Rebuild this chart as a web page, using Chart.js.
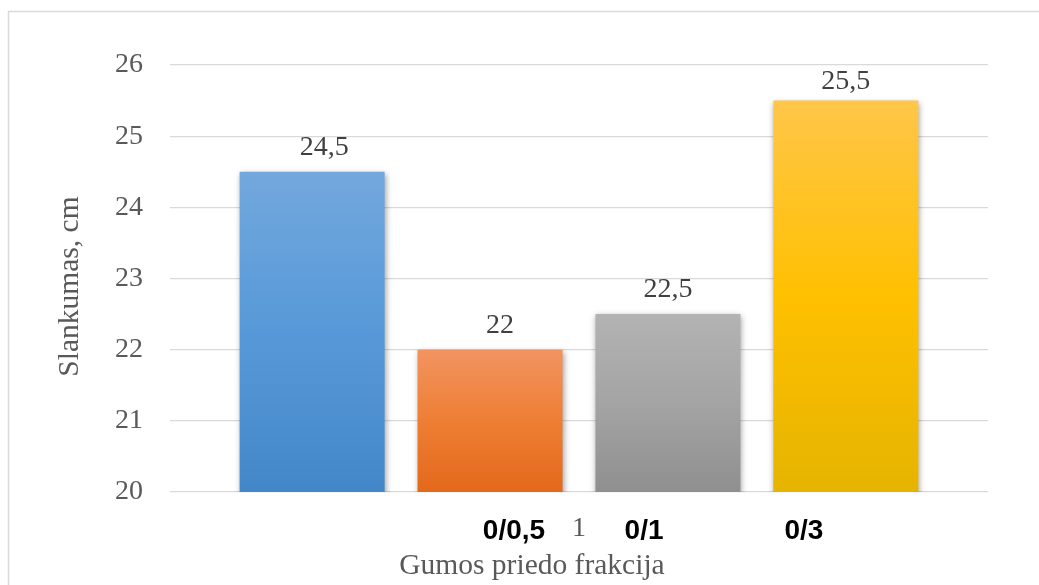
<!DOCTYPE html>
<html>
<head>
<meta charset="utf-8">
<title>Slankumas</title>
<script src="https://cdn.jsdelivr.net/npm/chart.js@4/dist/chart.umd.min.js"></script>
<style>
  html, body { margin: 0; padding: 0; background: #ffffff; }
  #wrap { position: relative; width: 1039px; height: 585px; }
</style>
</head>
<body>
<div id="wrap"><canvas id="chart" width="1039" height="585"></canvas></div>
<script>
// Category on the x axis (a single group of bars)
const categories = ['1'];
// Slump values, cm, one bar per series
const seriesNames = ['Kontrolinis', '0/0,5', '0/1', '0/3'];
const seriesValues = [24.5, 22, 22.5, 25.5];
// Y axis range and step
const yMin = 20;
const yMax = 26;
const yStep = 1;
// Fraction labels written under the plot
const fractionLabels = ['0/0,5', '0/1', '0/3'];
const yTitle = 'Slankumas, cm';
const xTitle = 'Gumos priedo frakcija';

// Light-to-dark vertical gradient stops for each bar
const barStops = [
  ['#72A8DD', '#5799D8', '#4487C8'],
  ['#F29460', '#EE7E34', '#E3691B'],
  ['#B3B3B3', '#A4A4A4', '#8F8F8F'],
  ['#FFC649', '#FFC000', '#E5B400']
];

const serif = "'Liberation Serif', 'Times New Roman', serif";
const sans = "'Liberation Sans', Arial, sans-serif";

function gradientFill(stops) {
  return (ctx) => {
    const chart = ctx.chart;
    if (!chart.chartArea || !chart.scales.y) return stops[1];
    const y = chart.scales.y;
    const top = y.getPixelForValue(ctx.raw);
    const bottom = y.getPixelForValue(y.min);
    if (!isFinite(top) || !isFinite(bottom) || top === bottom) return stops[1];
    const g = chart.ctx.createLinearGradient(0, top, 0, bottom);
    g.addColorStop(0, stops[0]);
    g.addColorStop(0.5, stops[1]);
    g.addColorStop(1, stops[2]);
    return g;
  };
}

const datasets = seriesNames.map((name, i) => ({
  label: name,
  data: [seriesValues[i]],
  backgroundColor: gradientFill(barStops[i]),
  borderWidth: 0,
  categoryPercentage: 0.87,
  barPercentage: 0.815
}));

// Outer frame of the chart object
const framePlugin = {
  id: 'frame',
  beforeDraw(chart) {
    const c = chart.ctx;
    c.save();
    c.strokeStyle = '#d9d9d9';
    c.lineWidth = 1.5;
    c.beginPath();
    c.moveTo(8.5, chart.height);
    c.lineTo(8.5, 11.5);
    c.lineTo(chart.width, 11.5);
    c.stroke();
    c.restore();
  }
};

// Soft drop shadow under the bars
const shadowPlugin = {
  id: 'barShadow',
  beforeDatasetsDraw(chart) {
    const c = chart.ctx;
    c.save();
    c.shadowColor = 'rgba(0,0,0,0.38)';
    c.shadowBlur = 6;
    c.shadowOffsetX = 1;
    c.shadowOffsetY = 2;
  },
  afterDatasetsDraw(chart) {
    chart.ctx.restore();
  }
};

// Value labels above each bar
const valueLabelPlugin = {
  id: 'valueLabels',
  afterDatasetsDraw(chart, args, opts) {
    const c = chart.ctx;
    c.save();
    c.font = '28px ' + serif;
    c.fillStyle = '#404040';
    c.textAlign = 'center';
    c.textBaseline = 'alphabetic';
    chart.data.datasets.forEach((ds, i) => {
      const meta = chart.getDatasetMeta(i);
      meta.data.forEach((bar, j) => {
        const v = ds.data[j];
        const shift = (opts.shifts && opts.shifts[i]) || [0, 0];
        c.fillText(String(v).replace('.', ','), bar.x + shift[0], bar.y - 17 + shift[1]);
      });
    });
    c.restore();
  }
};

// Axis titles and fraction labels around the plot
const titlesPlugin = {
  id: 'titles',
  afterDraw(chart, args, opts) {
    const c = chart.ctx;
    const a = chart.chartArea;
    const w = a.right - a.left;
    c.save();
    c.textAlign = 'center';
    c.textBaseline = 'alphabetic';
    c.font = 'bold 28px ' + sans;
    c.fillStyle = '#000000';
    fractionLabels.forEach((t, i) => {
      c.fillText(t, a.left + w * opts.labelPos[i], a.bottom + 47);
    });
    c.font = '29.5px ' + serif;
    c.fillStyle = '#595959';
    c.fillText(xTitle, a.left + w * opts.xTitlePos, a.bottom + 82);
    // rotated y axis title
    c.translate(opts.yTitleX, (a.top + a.bottom) / 2 + opts.yTitleShift);
    c.rotate(-Math.PI / 2);
    c.textBaseline = 'middle';
    c.fillText(yTitle, 0, 0);
    c.restore();
  }
};

new Chart(document.getElementById('chart'), {
  type: 'bar',
  data: { labels: categories, datasets },
  plugins: [framePlugin, shadowPlugin, valueLabelPlugin, titlesPlugin],
  options: {
    responsive: false,
    animation: false,
    layout: { padding: { top: 65, right: 51, bottom: 0, left: 0 } },
    plugins: {
      legend: { display: false },
      tooltip: { enabled: false },
      valueLabels: { shifts: [[12, 0], [10, 0], [0, 0], [0, 5]] },
      titles: { labelPos: [0.4205, 0.5795, 0.775], xTitlePos: 0.4425, yTitleX: 70, yTitleShift: 8 }
    },
    scales: {
      x: {
        grid: { display: false, drawTicks: false },
        border: { display: false },
        ticks: {
          color: '#595959',
          font: { family: serif, size: 28 },
          padding: 20
        },
        afterFit(scale) { scale.height = 93; }
      },
      y: {
        min: yMin,
        max: yMax,
        grid: { color: '#d9d9d9', lineWidth: 1.3, drawTicks: false },
        border: { display: false },
        ticks: {
          stepSize: yStep,
          color: '#595959',
          font: { family: serif, size: 28 },
          padding: 27
        },
        afterFit(scale) { scale.width = 170; }
      }
    }
  }
});
</script>
</body>
</html>
